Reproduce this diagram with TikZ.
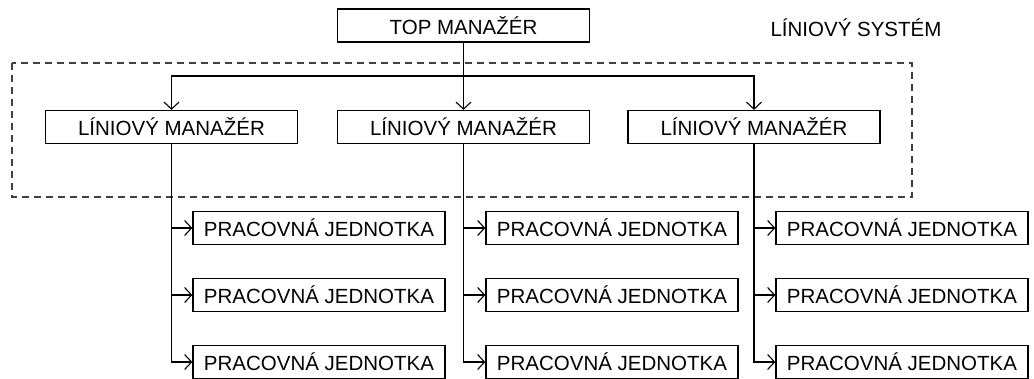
\documentclass[tikz,border=0pt]{standalone}
\usepackage{fontspec}
\setmainfont{Liberation Sans}
\usetikzlibrary{arrows.meta}
\begin{document}
\begin{tikzpicture}[x=1pt,y=-1pt,
  box/.style={draw,line width=1.3pt,minimum width=252pt,minimum height=33pt,inner sep=0pt,font=\fontsize{20.5}{24}\selectfont},
  link/.style={line width=1.3pt},
  tip/.style={link,-{Straight Barb[length=7pt,width=15pt,line width=1.1pt]}}]
  \useasboundingbox (0,0) rectangle (1034,378);

  % top and line managers
  \node[box] (top) at (463.5,25.5) {TOP MANAŽÉR};
  \node[font=\fontsize{20.5}{24}\selectfont] (title) at (856,28) {LÍNIOVÝ SYSTÉM};
  \node[box] (lm1) at (171.5,127) {LÍNIOVÝ MANAŽÉR};
  \node[box] (lm2) at (463.5,127) {LÍNIOVÝ MANAŽÉR};
  \node[box] (lm3) at (754,127) {LÍNIOVÝ MANAŽÉR};
  \draw[line width=1.4pt,black!75,dash pattern=on 7pt off 5pt] (12,63) rectangle (912,197);

  \coordinate (bus) at (463.5,76);
  \draw[tip] (top.south) -- (lm2.north);
  \draw[tip] (bus) -| (lm1.north);
  \draw[tip] (bus) -| (lm3.north);

  % work units
  \foreach \c/\x in {1/319,2/612,3/902}
    \foreach \r/\y in {1/228,2/295,3/362}
      \node[box] (pj\c\r) at (\x,\y) {PRACOVNÁ JEDNOTKA};
  \foreach \c in {1,2,3}
    \foreach \r in {1,2,3}
      \draw[tip] (lm\c.south) |- (pj\c\r.west);
\end{tikzpicture}
\end{document}
